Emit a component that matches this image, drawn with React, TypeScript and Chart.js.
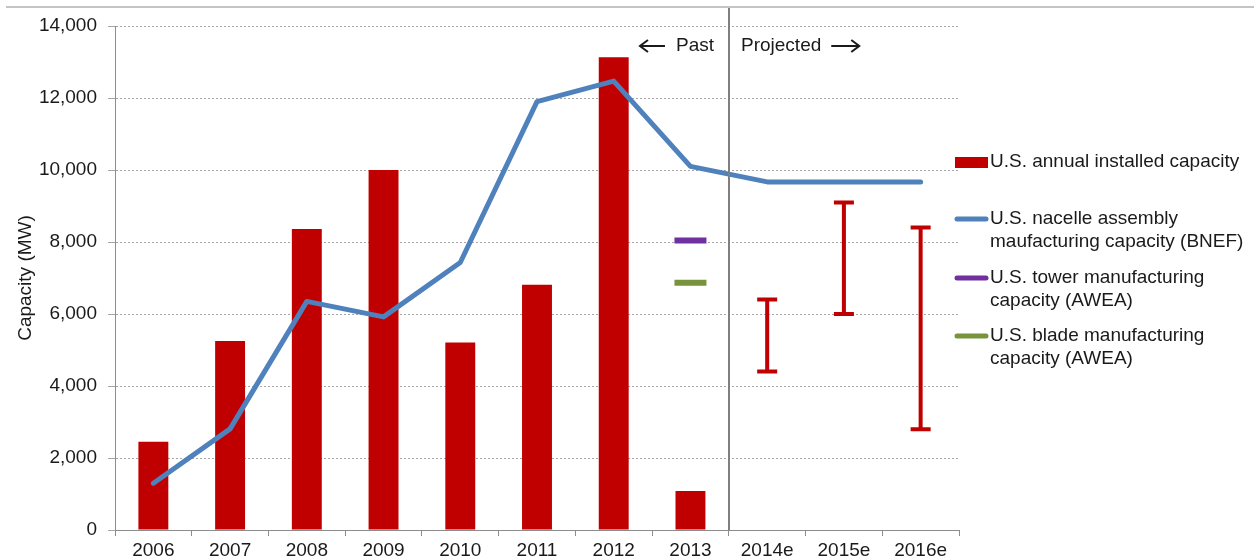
import React, { useEffect, useRef } from 'react';
import { Chart, registerables } from 'chart.js';

Chart.register(...registerables);

const categories = ['2006', '2007', '2008', '2009', '2010', '2011', '2012', '2013', '2014e', '2015e', '2016e'];
const installedCapacity = [2450, 5250, 8360, 10000, 5210, 6810, 13130, 1080, null, null, null];
const nacelleCapacity = [1300, 2810, 6350, 5920, 7430, 11900, 12470, 10100, 9670, 9670, 9670];
const towerCapacity = [null, null, null, null, null, null, null, 8040, null, null, null];
const bladeCapacity = [null, null, null, null, null, null, null, 6870, null, null, null];
const projectedLow = [null, null, null, null, null, null, null, null, 4400, 6000, 2800];
const projectedHigh = [null, null, null, null, null, null, null, null, 6400, 9100, 8400];
const yTicks = [0, 2000, 4000, 6000, 8000, 10000, 12000, 14000];

const legendItems = [
  { kind: 'box', color: '#C00000', lines: ['U.S. annual installed capacity'] },
  { kind: 'line', color: '#4F81BD', lines: ['U.S. nacelle assembly', 'maufacturing capacity (BNEF)'] },
  { kind: 'line', color: '#7030A0', lines: ['U.S. tower manufacturing', 'capacity (AWEA)'] },
  { kind: 'line', color: '#77933C', lines: ['U.S. blade manufacturing', 'capacity (AWEA)'] },
];

const RED = '#C00000';
const FONT = '"Liberation Sans", Arial, sans-serif';
const TEXT = '#1a1a1a';

const errorBarPlugin = {
  id: 'errorBars',
  afterDatasetsDraw(chart: any) {
    const { ctx, scales } = chart;
    const x = scales.x;
    const y = scales.y;
    ctx.save();
    ctx.strokeStyle = RED;
    ctx.lineWidth = 4;
    projectedLow.forEach((lo, i) => {
      const hi = projectedHigh[i];
      if (lo == null || hi == null) return;
      const px = x.getPixelForValue(i);
      const yl = y.getPixelForValue(lo);
      const yh = y.getPixelForValue(hi);
      ctx.beginPath();
      ctx.moveTo(px, yl);
      ctx.lineTo(px, yh);
      ctx.moveTo(px - 10, yl);
      ctx.lineTo(px + 10, yl);
      ctx.moveTo(px - 10, yh);
      ctx.lineTo(px + 10, yh);
      ctx.stroke();
    });
    ctx.restore();
  },
};

function drawArrow(ctx: CanvasRenderingContext2D, x0: number, x1: number, y: number) {
  // arrow from x0 (tail) to x1 (head)
  const dir = x1 > x0 ? 1 : -1;
  ctx.beginPath();
  ctx.moveTo(x0, y);
  ctx.lineTo(x1, y);
  ctx.moveTo(x1 - dir * 8, y - 6);
  ctx.lineTo(x1, y);
  ctx.lineTo(x1 - dir * 8, y + 6);
  ctx.stroke();
}

const decorPlugin = {
  id: 'decor',
  afterDraw(chart: any) {
    const { ctx, chartArea, scales } = chart;
    const x = scales.x;
    ctx.save();
    // top border line
    ctx.strokeStyle = '#c4c4c4';
    ctx.lineWidth = 2;
    ctx.beginPath();
    ctx.moveTo(6, 7);
    ctx.lineTo(chart.width, 7);
    ctx.stroke();
    // divider between past and projected
    const divX = Math.round((x.getPixelForValue(7) + x.getPixelForValue(8)) / 2);
    ctx.strokeStyle = '#7f7f7f';
    ctx.lineWidth = 2;
    ctx.beginPath();
    ctx.moveTo(divX, 8);
    ctx.lineTo(divX, chartArea.bottom);
    ctx.stroke();
    // Past / Projected labels
    ctx.fillStyle = TEXT;
    ctx.font = `19px ${FONT}`;
    ctx.textBaseline = 'middle';
    ctx.textAlign = 'right';
    const pastRight = divX - 15;
    ctx.fillText('Past', pastRight, 46);
    const pastW = ctx.measureText('Past').width;
    ctx.textAlign = 'left';
    const projLeft = divX + 12;
    ctx.fillText('Projected', projLeft, 46);
    const projW = ctx.measureText('Projected').width;
    ctx.strokeStyle = TEXT;
    ctx.lineWidth = 2;
    ctx.lineCap = 'butt';
    drawArrow(ctx, pastRight - pastW - 11, pastRight - pastW - 36, 46);
    drawArrow(ctx, projLeft + projW + 10, projLeft + projW + 38, 46);
    // legend
    ctx.textBaseline = 'middle';
    const lx0 = chartArea.right - 4;
    const lx1 = lx0 + 33;
    const tx = lx1 + 2;
    const tops = [162, 219, 278, 336];
    legendItems.forEach((item, k) => {
      const cy = tops[k];
      if (item.kind === 'box') {
        ctx.fillStyle = item.color;
        ctx.fillRect(lx0, cy - 5, lx1 - lx0, 11);
      } else {
        ctx.strokeStyle = item.color;
        ctx.lineWidth = 5;
        ctx.lineCap = 'round';
        ctx.beginPath();
        ctx.moveTo(lx0 + 2, cy);
        ctx.lineTo(lx1 - 2, cy);
        ctx.stroke();
      }
      ctx.fillStyle = TEXT;
      ctx.textAlign = 'left';
      item.lines.forEach((t, j) => ctx.fillText(t, tx, cy + j * 23));
    });
    ctx.restore();
  },
};

export default function App() {
  const ref = useRef<HTMLCanvasElement>(null);
  useEffect(() => {
    document.body.style.margin = '0';
    Chart.defaults.font.family = FONT;
    const chart = new Chart(ref.current as HTMLCanvasElement, {
      type: 'bar',
      data: {
        labels: categories,
        datasets: [
          {
            type: 'line',
            label: 'U.S. nacelle assembly maufacturing capacity (BNEF)',
            data: nacelleCapacity,
            borderColor: '#4F81BD',
            borderWidth: 5,
            borderCapStyle: 'round',
            borderJoinStyle: 'round',
            pointRadius: 0,
            tension: 0,
            order: 0,
          } as any,
          {
            type: 'line',
            label: 'U.S. tower manufacturing capacity (AWEA)',
            data: towerCapacity,
            showLine: false,
            pointStyle: 'line',
            pointRadius: 16,
            pointBorderWidth: 6,
            pointBorderColor: '#7030A0',
            borderColor: '#7030A0',
            order: 0,
          } as any,
          {
            type: 'line',
            label: 'U.S. blade manufacturing capacity (AWEA)',
            data: bladeCapacity,
            showLine: false,
            pointStyle: 'line',
            pointRadius: 16,
            pointBorderWidth: 6,
            pointBorderColor: '#77933C',
            borderColor: '#77933C',
            order: 0,
          } as any,
          {
            type: 'bar',
            label: 'U.S. annual installed capacity',
            data: installedCapacity,
            backgroundColor: RED,
            categoryPercentage: 1,
            barPercentage: 0.39,
            order: 1,
          } as any,
        ],
      },
      options: {
        responsive: false,
        animation: false,
        devicePixelRatio: 1,
        layout: { padding: { top: 26, left: 0, right: 295, bottom: 0 } },
        plugins: { legend: { display: false }, tooltip: { enabled: false } },
        scales: {
          x: {
            offset: true,
            grid: {
              display: true,
              offset: true,
              drawOnChartArea: false,
              drawTicks: true,
              tickLength: 6,
              color: '#8c8c8c',
            },
            border: { color: '#8c8c8c', width: 1 },
            ticks: { font: { size: 19 }, color: TEXT, padding: 3, maxRotation: 0 },
            afterFit: (s: any) => { s.height = 30; },
          },
          y: {
            min: 0,
            max: 14000,
            afterBuildTicks: (s: any) => { s.ticks = yTicks.map((v) => ({ value: v })); },
            grid: {
              color: '#a6a6a6',
              lineWidth: 1,
              tickLength: 7,
              drawTicks: true,
            },
            border: { color: '#8c8c8c', width: 1 },
            ticks: {
              font: { size: 19 },
              color: TEXT,
              padding: 11,
              callback: (v: any) => Number(v).toLocaleString('en-US'),
            },
            title: {
              display: true,
              text: 'Capacity (MW)',
              font: { size: 19 },
              color: TEXT,
              padding: { top: 14, bottom: 0 },
            },
            afterFit: (s: any) => { s.width = 115; },
          } as any,
        },
      },
      plugins: [errorBarPlugin, decorPlugin],
    } as any);
    (chart.options.scales as any).y.border.dash = [2, 2];
    chart.update();
    return () => chart.destroy();
  }, []);
  return <canvas ref={ref} width={1254} height={560} style={{ display: 'block' }} />;
}
